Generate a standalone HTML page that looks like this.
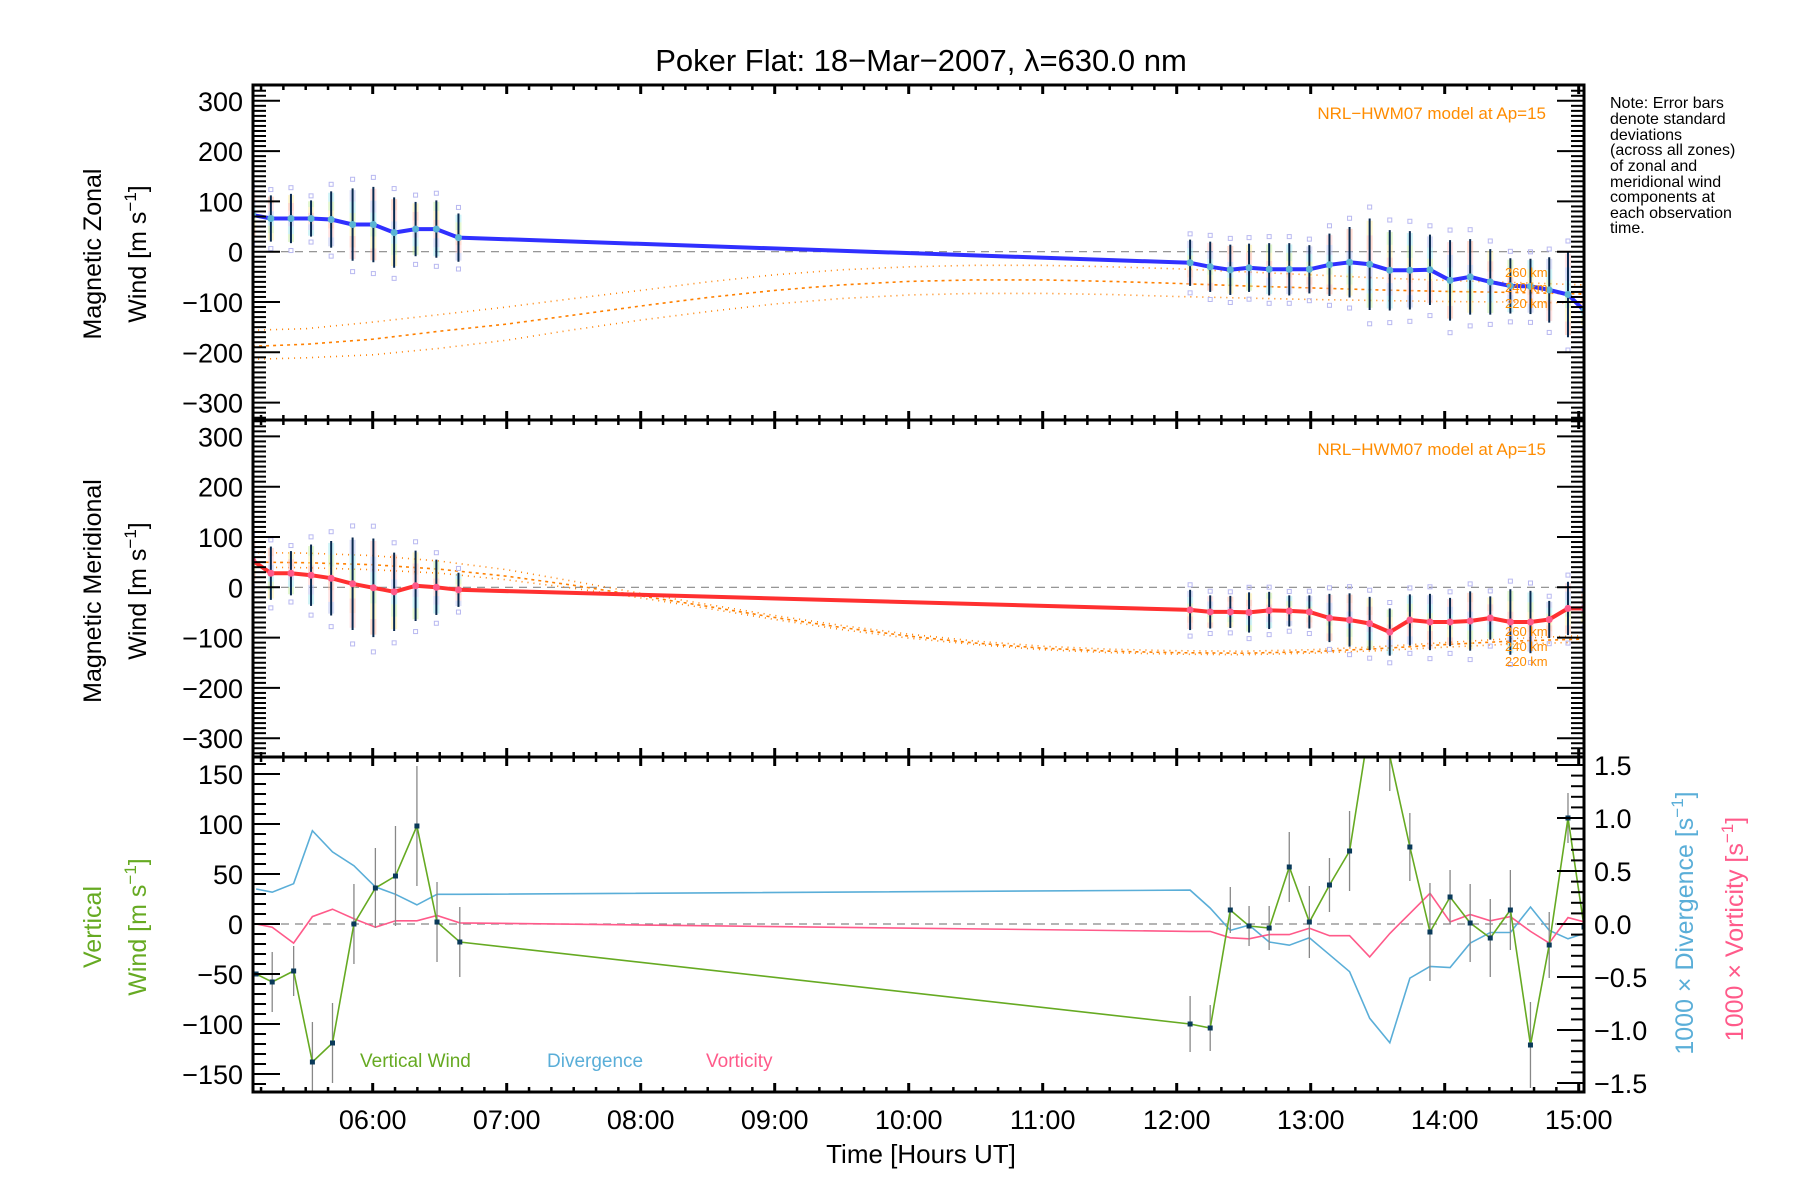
<!DOCTYPE html>
<html><head><meta charset="utf-8"><title>Poker Flat winds</title>
<style>
html,body{margin:0;padding:0;background:#fff;}
svg{display:block;font-family:"Liberation Sans",sans-serif;}
</style></head>
<body>
<svg id="chart" width="1800" height="1200" viewBox="0 0 1800 1200" xmlns="http://www.w3.org/2000/svg">
<defs>
<clipPath id="c1"><rect x="253" y="85" width="1331" height="335"/></clipPath>
<clipPath id="c2"><rect x="253" y="420" width="1331" height="337"/></clipPath>
<clipPath id="c3"><rect x="253" y="757" width="1331" height="335"/></clipPath>
</defs>
<text x="921" y="71" font-size="31" text-anchor="middle">Poker Flat: 18−Mar−2007, λ=630.0 nm</text>
<g id="g1"></g>
<g id="g2"></g>
<g id="g3"></g>
<g id="axes"></g>
<g font-size="25">
<text transform="translate(101,254) rotate(-90)" text-anchor="middle">Magnetic Zonal</text>
<text transform="translate(146,254) rotate(-90)" text-anchor="middle">Wind [m s<tspan dy="-10" font-size="17">−1</tspan><tspan dy="10">]</tspan></text>
</g>
<g font-size="25">
<text transform="translate(101,591) rotate(-90)" text-anchor="middle">Magnetic Meridional</text>
<text transform="translate(146,591) rotate(-90)" text-anchor="middle">Wind [m s<tspan dy="-10" font-size="17">−1</tspan><tspan dy="10">]</tspan></text>
</g>
<g font-size="25" fill="#66aa22">
<text transform="translate(101,927) rotate(-90)" text-anchor="middle">Vertical</text>
<text transform="translate(146,927) rotate(-90)" text-anchor="middle">Wind [m s<tspan dy="-10" font-size="17">−1</tspan><tspan dy="10">]</tspan></text>
</g>
<text transform="translate(1693,923) rotate(-90)" text-anchor="middle" font-size="25" fill="#5aaed8">1000 × Divergence [s<tspan dy="-10" font-size="17">−1</tspan><tspan dy="10">]</tspan></text>
<text transform="translate(1743,929) rotate(-90)" text-anchor="middle" font-size="25" fill="#ff5a8a">1000 × Vorticity [s<tspan dy="-10" font-size="17">−1</tspan><tspan dy="10">]</tspan></text>
<text x="921" y="1163" font-size="26" text-anchor="middle">Time [Hours UT]</text>
<text x="1546" y="119" font-size="17" fill="#ff8c00" text-anchor="end">NRL−HWM07 model at Ap=15</text>
<text x="1546" y="455" font-size="17" fill="#ff8c00" text-anchor="end">NRL−HWM07 model at Ap=15</text>
<g font-size="13" fill="#ff8c00">
<text x="1505" y="277">260 km</text><text x="1505" y="292">240 km</text><text x="1505" y="308">220 km</text>
<text x="1505" y="636">260 km</text><text x="1505" y="651">240 km</text><text x="1505" y="666">220 km</text>
</g>
<g font-size="16">
<text x="1610" y="108">Note: Error bars</text>
<text x="1610" y="124">denote standard</text>
<text x="1610" y="140">deviations</text>
<text x="1610" y="155">(across all zones)</text>
<text x="1610" y="171">of zonal and</text>
<text x="1610" y="187">meridional wind</text>
<text x="1610" y="202">components at</text>
<text x="1610" y="218">each observation</text>
<text x="1610" y="233">time.</text>
</g>
<g font-size="19">
<text x="360" y="1067" fill="#66aa22">Vertical Wind</text>
<text x="547" y="1067" fill="#5aaed8">Divergence</text>
<text x="706" y="1067" fill="#ff5a8a">Vorticity</text>
</g>
</svg>
<script>
// ---- data ----
const obsTimes = [5.104,5.24,5.39,5.54,5.69,5.85,6.005,6.16,6.32,6.475,6.64,
  12.10,12.25,12.40,12.54,12.69,12.84,12.99,13.14,13.29,13.44,13.59,13.74,13.89,14.04,14.19,14.34,14.49,14.64,14.78,14.92,15.04];
const zonalWind = [73,66,66,66,64,54,54,38,45,45,28,
  -22,-30,-36,-32,-35,-35,-35,-26,-21,-25,-37,-37,-36,-57,-50,-60,-68,-69,-76,-85,-117];
const zonalErr = [45,46,49,36,56,72,75,70,54,57,48,
  46,50,50,48,52,52,48,62,70,91,80,78,70,80,75,65,55,55,65,85,0];
const meridWind = [53,28,28,24,18,7,-1,-9,3,0,-5,
  -45,-49,-49,-50,-46,-47,-49,-61,-65,-72,-89,-65,-69,-69,-67,-61,-69,-69,-64,-42,-42];
const meridErr = [40,53,44,61,74,92,98,78,70,55,34,
  40,33,32,40,37,31,33,48,53,53,47,51,56,48,59,43,65,62,37,53,0];
const modelTimes = [5.1,5.5,6,6.5,7,7.5,8,8.5,9,9.5,10,10.5,11,11.5,12,12.5,13,13.5,14,14.5,15.04];
const zonal260 = [-156,-153,-140,-125,-110,-93,-77,-60,-46,-36,-30,-27,-27,-30,-34,-40,-46,-52,-57,-61,-66];
const zonal240 = [-188,-184,-174,-158,-144,-126,-108,-91,-77,-66,-59,-56,-56,-59,-63,-68,-72,-76,-79,-81,-84];
const zonal220 = [-214,-211,-205,-192,-176,-155,-136,-119,-104,-93,-86,-83,-83,-85,-89,-92,-95,-97,-99,-100,-102];
const merid260 = [69,68,63,52,35,12,-12,-34,-56,-76,-93,-107,-117,-123,-126,-127,-124,-118,-110,-102,-96];
const merid240 = [50,49,45,36,22,4,-17,-38,-60,-80,-97,-111,-121,-127,-130,-131,-128,-122,-114,-107,-103];
const merid220 = [40,39,35,28,15,-2,-21,-42,-64,-84,-101,-114,-124,-130,-133,-134,-131,-126,-119,-113,-109];
const vertTimes = [5.13,5.25,5.41,5.55,5.70,5.86,6.02,6.17,6.33,6.48,6.65,
  12.10,12.25,12.40,12.54,12.69,12.84,12.99,13.14,13.29,13.44,13.59,13.74,13.89,14.04,14.19,14.34,14.49,14.64,14.78,14.92,15.04];
const vertWind = [-50,-58,-47,-138,-119,0,36,48,98,2,-18,
  -100,-104,14,-2,-4,57,2,39,73,200,168,77,-8,27,1,-14,14,-121,-21,106,-3];
const vertErr = [0,30,25,40,40,40,40,50,60,40,35,
  28,23,23,20,22,35,36,27,40,0,35,34,49,27,39,39,40,43,33,25,0];
const divergence = [0.33,0.30,0.38,0.88,0.68,0.55,0.35,0.28,0.18,0.28,0.28,
  0.32,0.15,-0.06,-0.01,-0.17,-0.20,-0.13,-0.29,-0.45,-0.89,-1.12,-0.51,-0.40,-0.41,-0.18,-0.08,-0.08,0.16,-0.06,-0.14,-0.09];
const vorticity = [0.0,-0.03,-0.18,0.07,0.14,0.05,-0.03,0.03,0.03,0.08,0.01,
  -0.07,-0.07,-0.13,-0.14,-0.10,-0.10,-0.04,-0.11,-0.11,-0.31,-0.09,0.10,0.29,0.02,0.09,0.03,0.07,-0.07,-0.18,0.06,0.02];
const xTickLabels = ["06:00","07:00","08:00","09:00","10:00","11:00","12:00","13:00","14:00","15:00"];
const windTickLabels = ["−300","−200","−100","0","100","200","300"];
const vertTickLabels = ["−150","−100","−50","0","50","100","150"];
const rightTickLabels = ["−1.5","−1.0","−0.5","0.0","0.5","1.0","1.5"];

// ---- scales ----
const L=253, R=1584;
function xs(t){return 372.7+(t-6)*134;}
function y1(v){return 251.7-v*0.503;}
function y2(v){return 587.3-v*0.503;}
function y3(v){return 924-v*1.0;}
function y3r(v){return 924-v*106;}
const NS="http://www.w3.org/2000/svg";
function mk(tag,attrs,parent){const e=document.createElementNS(NS,tag);for(const k in attrs)e.setAttribute(k,attrs[k]);parent.appendChild(e);return e;}
function pts(ts,vs,yf){return ts.map((t,i)=>xs(t).toFixed(1)+","+yf(vs[i]).toFixed(1)).join(" ");}

const pastel=["#ffb8a0","#fff0a0","#c8f0a0","#a0e8f0","#b8c0f0","#ffc8c8"];
function windPanel(g,clip,yf,vals,errs,m1,m2,m3,lineColor,dotColor,nm){
  const cg=mk("g",{"clip-path":"url(#"+clip+")"},g);
  const z=mk("line",{x1:L,x2:R,y1:yf(0),y2:yf(0),stroke:"#888","stroke-width":1.2,"stroke-dasharray":"8,6"},cg);
  
  
  [[m1,"1,5"],[m2,"3,4"],[m3,"1,5"]].forEach((m,k)=>{
    const p=mk("polyline",{points:pts(modelTimes,m[0],yf),fill:"none",stroke:"#ff8000","stroke-width":1.6,"stroke-dasharray":m[1]},cg);
    
    
  });
  obsTimes.forEach((t,i)=>{
    const x=xs(t), v=vals[i], e=errs[i]||30;
    const n=6;
    for(let k=0;k<n;k++){
      const a=v-e*0.95+k*(1.9*e/n);
      mk("rect",{x:x-3,y:yf(a+1.9*e/n),width:6,height:Math.abs(yf(a)-yf(a+1.9*e/n)),fill:pastel[(i+k)%6],opacity:0.5},cg);
    }
    mk("rect",{x:x-2,y:yf(v+e*1.25)-2,width:4,height:4,fill:"none",stroke:"#b8b8f0","stroke-width":1},cg);
    mk("rect",{x:x-2,y:yf(v-e*1.3)-2,width:4,height:4,fill:"none",stroke:"#b8b8f0","stroke-width":1},cg);
    if(errs[i]>0){
      const b=mk("line",{x1:x,x2:x,y1:yf(v+errs[i]),y2:yf(v-errs[i]),stroke:"#0a2a50","stroke-width":2},cg);
      
      
    }
  });
  const l=mk("polyline",{points:pts(obsTimes,vals,yf),fill:"none",stroke:lineColor,"stroke-width":4,"stroke-linejoin":"round"},cg);
  
  
  obsTimes.forEach((t,i)=>{
    const c=mk("circle",{cx:xs(t),cy:yf(vals[i]),r:3.5,fill:dotColor},cg);
    
    
  });
}
windPanel(document.getElementById("g1"),"c1",y1,zonalWind,zonalErr,zonal260,zonal240,zonal220,"#3030ff","#5ab4d4","zonal");
windPanel(document.getElementById("g2"),"c2",y2,meridWind,meridErr,merid260,merid240,merid220,"#ff3030","#ff5a8a","meridional");

(function(){
  const g=document.getElementById("g3");
  const cg=mk("g",{"clip-path":"url(#c3)"},g);
  const z=mk("line",{x1:L,x2:R,y1:y3(0),y2:y3(0),stroke:"#888","stroke-width":1.2,"stroke-dasharray":"8,6"},cg);
  
  
  const d=mk("polyline",{points:pts(vertTimes,divergence,y3r),fill:"none",stroke:"#5aaed8","stroke-width":1.6},cg);
  
  
  const v=mk("polyline",{points:pts(vertTimes,vorticity,y3r),fill:"none",stroke:"#ff5a8a","stroke-width":1.6},cg);
  
  
  vertTimes.forEach((t,i)=>{
    if(vertErr[i]>0){
      const b=mk("line",{x1:xs(t),x2:xs(t),y1:y3(vertWind[i]+vertErr[i]),y2:y3(vertWind[i]-vertErr[i]),stroke:"#888","stroke-width":1.3},cg);
      
      
    }
  });
  const w=mk("polyline",{points:pts(vertTimes,vertWind,y3),fill:"none",stroke:"#66aa22","stroke-width":1.6},cg);
  
  
  vertTimes.forEach((t,i)=>{
    const p=mk("rect",{x:xs(t)-2.5,y:y3(vertWind[i])-2.5,width:5,height:5,fill:"#0a3a5a"},cg);
    
    
  });
})();

(function(){
  const g=document.getElementById("axes");
  const frames=[[85,420],[420,757],[757,1092]];
  frames.forEach((f,pi)=>{
    const r=mk("rect",{x:L,y:f[0],width:R-L,height:f[1]-f[0],fill:"none",stroke:"#000","stroke-width":3},g);
    
    
    for(let m=5*60+10;m<=15*60;m+=10){
      const x=xs(m/60), major=(m%60===0), len=major?9:5;
      mk("line",{x1:x,x2:x,y1:f[0],y2:f[0]+len,stroke:"#000","stroke-width":major?3:2.5},g);
      mk("line",{x1:x,x2:x,y1:f[1],y2:f[1]-len,stroke:"#000","stroke-width":major?3:2.5},g);
    }
  });
  [[y1,85,420],[y2,420,757]].forEach((p,pi)=>{
    for(let v=-340;v<=340;v+=10){
      const y=p[0](v); if(y<p[1]+1||y>p[2]-1) continue;
      const major=(v%100===0), len=major?27:13;
      mk("line",{x1:L,x2:L+len,y1:y,y2:y,stroke:"#000","stroke-width":2},g);
      mk("line",{x1:R,x2:R-len,y1:y,y2:y,stroke:"#000","stroke-width":2},g);
    }
    windTickLabels.forEach((s,i)=>{
      const v=-300+i*100;
      const t=mk("text",{x:243,y:p[0](v)+10,"font-size":27,"text-anchor":"end"},g);
      t.textContent=s;
      
      
    });
  });
  for(let v=-160;v<=160;v+=10){
    const y=y3(v); if(y<758||y>1091) continue;
    const major=(v%50===0), len=major?27:13;
    mk("line",{x1:L,x2:L+len,y1:y,y2:y,stroke:"#000","stroke-width":2},g);
  }
  vertTickLabels.forEach((s,i)=>{
    const t=mk("text",{x:243,y:y3(-150+i*50)+10,"font-size":27,"text-anchor":"end"},g);
    t.textContent=s;
    
    
  });
  for(let k=-15;k<=15;k++){
    const y=y3r(k/10); if(y<758||y>1091) continue;
    const major=(k%5===0), len=major?27:13;
    mk("line",{x1:R,x2:R-len,y1:y,y2:y,stroke:"#000","stroke-width":2},g);
  }
  rightTickLabels.forEach((s,i)=>{
    const t=mk("text",{x:1594,y:y3r(-1.5+i*0.5)+10,"font-size":27},g);
    t.textContent=s;
    
    
  });
  xTickLabels.forEach((s,i)=>{
    const t=mk("text",{x:xs(6+i),y:1129,"font-size":27,"text-anchor":"middle"},g);
    t.textContent=s;
    
    
  });
})();
</script>
</body></html>
